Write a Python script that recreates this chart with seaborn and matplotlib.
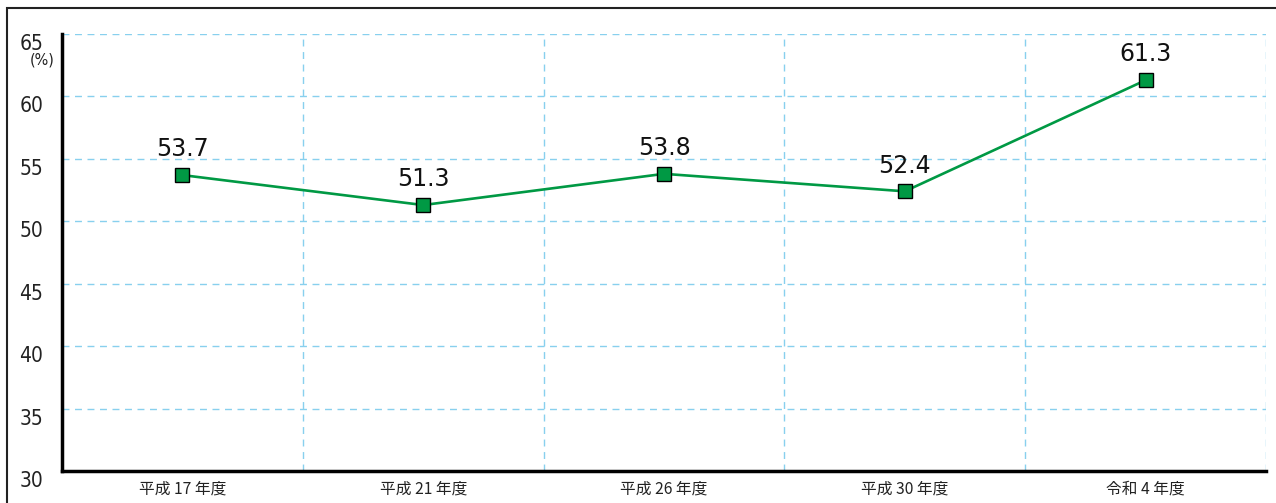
import matplotlib
matplotlib.use('Agg')
import matplotlib.pyplot as plt
import matplotlib.patches as patches
import matplotlib.transforms as mtrans
import pandas as pd
import seaborn as sns

# Datos
years = ['平成 17 年度', '平成 21 年度', '平成 26 年度', '平成 30 年度', '令和 4 年度']
rates = [53.7, 51.3, 53.8, 52.4, 61.3]
y_ticks = [30, 35, 40, 45, 50, 55, 60, 65]

df = pd.DataFrame({'year': years, 'rate': rates})

sns.set_style('white')
plt.rcParams['font.family'] = ['Noto Sans CJK JP', 'DejaVu Sans']

fig = plt.figure(figsize=(12.76, 5.03), dpi=100)
ax = fig.add_axes([62 / 1276, 32 / 503, (1266 - 62) / 1276, (471 - 34) / 503])

sns.lineplot(data=df, x='year', y='rate', ax=ax, sort=False, color='#009944',
             linewidth=1.9, marker='s', markersize=10.5,
             markerfacecolor='#009944', markeredgecolor='black', markeredgewidth=1.0,
             zorder=5)

# etiquetas de valores
for i, v in enumerate(rates):
    ax.text(i, v + 1.5, f'{v:.1f}', ha='center', va='baseline', fontsize=17,
            color='#111111', family='DejaVu Sans', zorder=6)

ax.set_xlim(-0.5, 4.5)
ax.set_ylim(30, 65)
ax.set_yticks(y_ticks)
ax.set_yticklabels([str(t) for t in y_ticks], fontsize=15,
                   family='DejaVu Sans', fontstretch='condensed', color='#222222')
ax.set_xticks(range(len(years)))
ax.set_xticklabels(years, fontsize=11.3, color='#222222')
ax.tick_params(axis='both', length=0)
ax.tick_params(axis='x', pad=6.5)
ax.tick_params(axis='y', pad=13.5)
# bajar las etiquetas del eje y unos pixeles
offset = mtrans.ScaledTranslation(0, -8 / 100, fig.dpi_scale_trans)
for lab in ax.get_yticklabels():
    lab.set_transform(lab.get_transform() + offset)
ax.set_xlabel('')
ax.set_ylabel('')

# cuadrícula
for y in y_ticks[1:]:
    ax.axhline(y, color='#88d0ee', linestyle=(0, (5, 4)), linewidth=1, zorder=1)
for x in [0.5, 1.5, 2.5, 3.5, 4.5]:
    ax.axvline(x, color='#88d0ee', linestyle=(0, (5, 4)), linewidth=1, zorder=1)

for s in ['top', 'right']:
    ax.spines[s].set_visible(False)
ax.spines['left'].set_linewidth(2.5)
ax.spines['bottom'].set_linewidth(2.5)
ax.spines['left'].set_color('black')
ax.spines['bottom'].set_color('black')

ax.text((42 - 62) / 1204, (471 - 60) / 437, '(%)', transform=ax.transAxes,
        ha='center', va='center', fontsize=11.5, color='#222222',
        family='DejaVu Sans', fontstretch='condensed')

# marco exterior
fig.patches.append(patches.Rectangle((7 / 1276, -0.1), 1.1, 1 - 8 / 503 + 0.1,
                                     transform=fig.transFigure, fill=False,
                                     edgecolor='#222222', linewidth=1.5))

fig.savefig('out.png', dpi=100)
